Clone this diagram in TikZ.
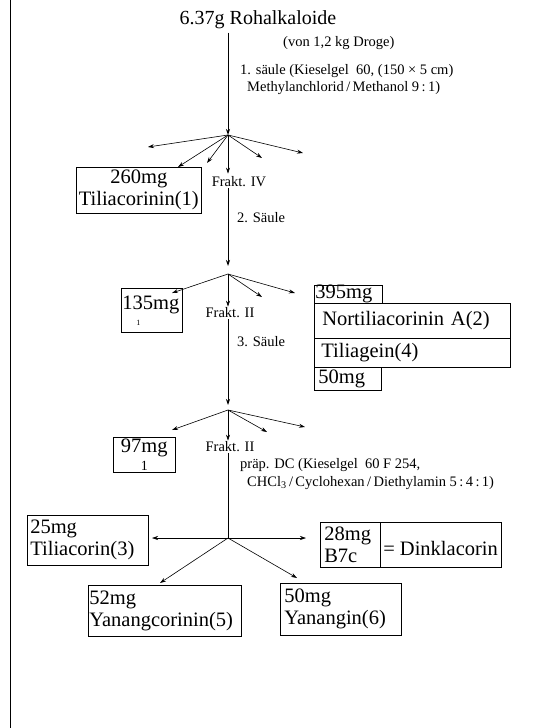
\documentclass[tikz,border=0pt]{standalone}
\usepackage{fontspec}
\setmainfont{Liberation Serif}
\usetikzlibrary{positioning, arrows.meta}
\newcommand{\yieldfont}{\fontsize{20.5}{22}\selectfont}
\newcommand{\notefont}{\fontsize{14.5}{17}\selectfont}

\begin{document}
\begin{tikzpicture}[x=1pt, y=-1pt,
  flow/.style={-{Stealth[length=6pt, width=4pt]}, thick},
  fan/.style={-{Stealth[length=6pt, width=4pt]}, semithick},
  yieldbox/.style={draw, semithick, anchor=north west, inner xsep=1pt,
                   inner ysep=0pt, font=\yieldfont, align=left},
  note/.style={font=\notefont, anchor=west, align=left, inner sep=0pt},
  frakt/.style={font=\notefont, inner sep=1pt},
]
  \useasboundingbox (0,0) rectangle (556,728);
  \draw[thin] (10,0) -- (10,728);

  % START
  \node[font=\fontsize{20}{22}\selectfont] (rohal) at (258,20) {6.37g Rohalkaloide};
  \node[note] (droge) at (283,43) {(von 1,2 kg Droge)};
  \node[note] (saule1) at (240,80) {1. säule (Kieselgel\ \ 60, (150 × 5 cm)\\\hspace{7pt}Methylanchlorid\,/\,Methanol 9\,:\,1)};
  \coordinate (b1) at (228,135);
  \draw[flow] (rohal.south -| b1) -- (b1);

  % 1. SAEULE
  \coordinate (f1a) at (148,147);
  \coordinate (f1b) at (178,167);
  \coordinate (f1c) at (207,163);
  \coordinate (f1d) at (262,158);
  \coordinate (f1e) at (303,153);
  \draw[fan] (b1) -- (f1a);
  \draw[fan] (b1) -- (f1b);
  \draw[fan] (b1) -- (f1c);
  \draw[fan] (b1) -- (f1d);
  \draw[fan] (b1) -- (f1e);
  \node[yieldbox, text width=123pt, minimum height=46pt, align=center] (tilia1) at (76,167) {260mg\\Tiliacorinin(1)};
  \node[frakt] (frakt4) at (239,182) {Frakt. IV};
  \draw[fan, shorten >=2pt] (b1) -- (frakt4.north -| b1);
  \coordinate (b2) at (228,274);
  \draw[flow, shorten >=8pt] (frakt4.south -| b1) -- (b2);
  \node[note] (saule2) at (237,218) {2. Säule};

  % 2. SAEULE
  \coordinate (f2a) at (172,293);
  \coordinate (f2b) at (262,297);
  \coordinate (f2c) at (295,293);
  \draw[fan] (b2) -- (f2a);
  \draw[fan] (b2) -- (f2b);
  \draw[fan] (b2) -- (f2c);
  \node[yieldbox, text width=59pt, minimum height=44pt] (m135) at (121,288) {135mg\\[-6pt]\hspace{14pt}{\fontsize{8}{8}\selectfont 1}};
  \node[frakt] (frakt2a) at (230,313) {Frakt. II};
  \draw[fan] (b2) -- (frakt2a.north -| b2);
  \node[yieldbox, text width=66pt, minimum height=18pt] (m395) at (314,285) {395mg};
  \node[yieldbox, text width=180pt, minimum height=35pt, inner xsep=8pt] (nort) at (314,303) {Nortiliacorinin A(2)};
  \node[yieldbox, text width=182pt, minimum height=29pt, inner xsep=7pt] (tiliag) at (314,338) {Tiliagein(4)};
  \node[yieldbox, text width=65pt, minimum height=23pt, inner xsep=1pt] (m50a) at (314,367) {\hspace{3pt}50mg};
  \coordinate (b3) at (228,410);
  \draw[flow, shorten >=5pt] (frakt2a.south -| b2) -- (b3);
  \node[note] (saule3) at (237,342) {3. Säule};

  % 3. SAEULE
  \coordinate (f3a) at (172,430);
  \coordinate (f3b) at (267,432);
  \coordinate (f3c) at (305,427);
  \draw[fan] (b3) -- (f3a);
  \draw[fan] (b3) -- (f3b);
  \draw[fan] (b3) -- (f3c);
  \node[yieldbox, text width=60pt, minimum height=35pt, align=center] (m97) at (113,437) {97mg\\[-4pt]{\fontsize{14}{14}\selectfont 1}};
  \node[frakt] (frakt2b) at (230,447) {Frakt. II};
  \draw[fan] (b3) -- (frakt2b.north -| b3);
  \coordinate (b4) at (228,538);
  \draw[semithick] (frakt2b.south -| b3) -- (b4);
  \node[note] (dc) at (240,474) {präp. DC (Kieselgel\ \ 60 F 254,\\[1pt]\hspace{7pt}CHCl\textsubscript{3}\,/\,Cyclohexan\,/\,Diethylamin 5\,:\,4\,:\,1)};

  % PRAEP. DC
  \coordinate (f4a) at (152,538);
  \coordinate (f4b) at (306,538);
  \coordinate (f4c) at (160,583);
  \coordinate (f4d) at (297,578);
  \draw[fan] (b4) -- (f4a);
  \draw[fan] (b4) -- (f4b);
  \draw[fan] (b4) -- (f4c);
  \draw[fan] (b4) -- (f4d);
  \node[yieldbox, text width=115pt, minimum height=50pt, inner xsep=3pt] (tilia3) at (27,515) {25mg\\Tiliacorin(3)};
  \node[yieldbox, text width=52pt, minimum height=45pt, inner xsep=4pt] (b7c) at (320,522) {28mg\\B7c};
  \node[yieldbox, minimum width=115pt, minimum height=45pt, inner xsep=3pt] (dink) at (380,522) {\mbox{}\\= Dinklacorin};
  \node[yieldbox, text width=151pt, minimum height=51pt] (yanc) at (88,585) {52mg\\Yanangcorinin(5)};
  \node[yieldbox, text width=113pt, minimum height=52pt, inner xsep=4pt] (yang) at (280,583) {50mg\\Yanangin(6)};
\end{tikzpicture}
\end{document}
